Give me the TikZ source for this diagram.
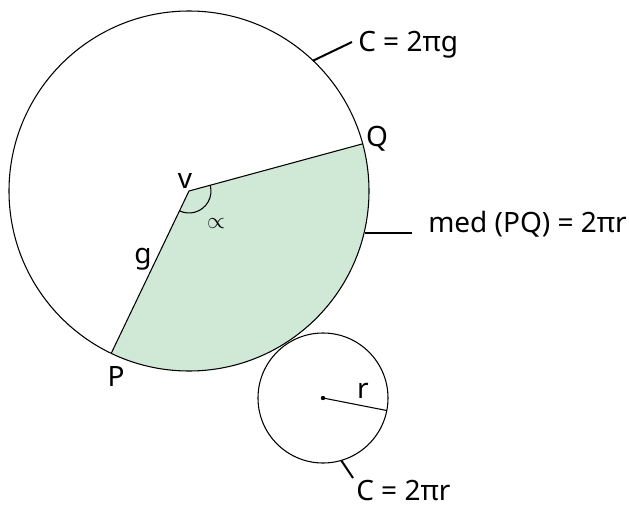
\documentclass[tikz,border=0pt]{standalone}
\usepackage{fontspec}
\setmainfont{Noto Sans}
\usetikzlibrary{calc}
\definecolor{sectorgreen}{RGB}{208,232,214}
\tikzset{
  thinline/.style={draw=black,line width=0.8pt},
  tickline/.style={draw=black,line width=1.5pt},
  lbl/.style={font=\fontsize{21}{25}\selectfont,inner sep=0pt},
}
\begin{document}
\begin{tikzpicture}[x=0.75pt,y=-0.75pt]
\useasboundingbox (0,0) rectangle (629,507);
% big circle
\coordinate (O) at (189,191);
\coordinate (Q) at ($(O)+(-15.2:180)$);
\coordinate (P) at ($(O)+(115.6:180)$);
\fill[sectorgreen] (O) -- (Q) arc[start angle=-15.2,end angle=115.6,radius=180] -- cycle;
\draw[thinline] (O) circle[radius=180];
\draw[thinline] (P) -- (O) -- (Q);
\draw[thinline] ($(O)+(-15.2:22)$) arc[start angle=-15.2,end angle=115.6,radius=22];
% small circle
\coordinate (o) at (323,398);
\coordinate (R) at ($(o)+(11.1:65)$);
\draw[thinline] (o) circle[radius=65];
\draw[thinline] (o) -- (R);
\fill (o) circle[radius=2.2];
% ticks
\coordinate (t1a) at ($(O)+(-46.4:180)$);
\coordinate (t1b) at (352,42);
\draw[tickline] (t1a) -- (t1b);
\coordinate (t2a) at (365,233);
\coordinate (t2b) at (412,233);
\draw[tickline] (t2a) -- (t2b);
\coordinate (t3a) at ($(o)+(73.7:65)$);
\coordinate (t3b) at (353,478);
\draw[tickline] (t3a) -- (t3b);
% labels
\node[lbl,anchor=west] (cg) at (358,45) {C = 2πg};
\node[lbl,anchor=west] (med) at (428,224) {med (PQ) = 2πr};
\node[lbl,anchor=west] (cr) at (356,490) {C = 2πr};
\node[lbl] (lv) at (185,181) {v};
\node[lbl] (lq) at (377,139) {Q};
\node[lbl] (lp) at (116,376) {P};
\node[lbl] (lg) at (143,259) {g};
\node[lbl] (lr) at (363,391) {r};
\node[font=\fontsize{19}{21}\selectfont,inner sep=0pt] (la) at (216,224) {$\propto$};
\end{tikzpicture}
\end{document}
